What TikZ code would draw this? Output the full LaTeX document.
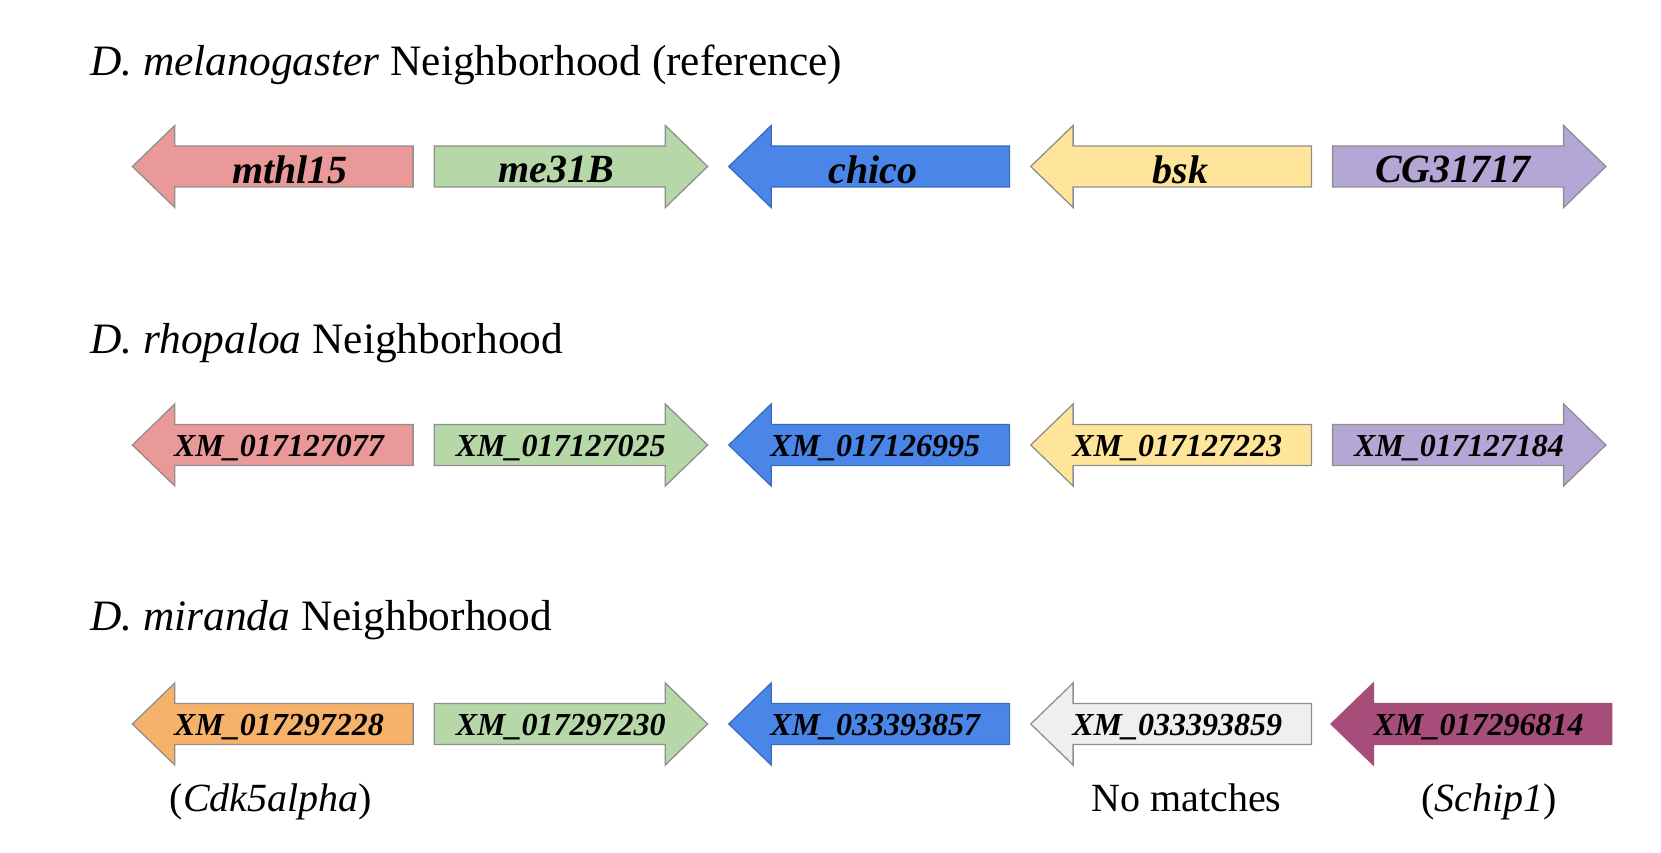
\documentclass[tikz,border=0pt]{standalone}
\usepackage{fontspec}
\setmainfont{Liberation Serif}
\definecolor{cpink}{HTML}{EA9999}
\definecolor{cgreen}{HTML}{B6D7A8}
\definecolor{cblue}{HTML}{4A86E8}
\definecolor{cyellow}{HTML}{FFE599}
\definecolor{cpurple}{HTML}{B4A7D6}
\definecolor{corange}{HTML}{F6B26B}
\definecolor{cgrey}{HTML}{EFEFEF}
\definecolor{cmagenta}{HTML}{A64D79}
\definecolor{cline}{HTML}{8F8F8F}
\newcommand{\arrR}[3]{% left x, centre y, style
  \draw[#3] (#1,#2-20.5) -- (#1+231,#2-20.5) -- (#1+231,#2-41) -- (#1+273.3,#2)
    -- (#1+231,#2+41) -- (#1+231,#2+20.5) -- (#1,#2+20.5) -- cycle;}
\newcommand{\arrL}[3]{% tip x, centre y, style
  \draw[#3] (#1,#2) -- (#1+42.4,#2-41) -- (#1+42.4,#2-20.5) -- (#1+280.7,#2-20.5)
    -- (#1+280.7,#2+20.5) -- (#1+42.4,#2+20.5) -- (#1+42.4,#2+41) -- cycle;}
\tikzset{
  gene/.style={line width=1.3pt, draw=cline},
  title/.style={anchor=base west, inner sep=0pt, font=\fontsize{43.4}{50}\selectfont},
  biglab/.style={inner sep=0pt, font=\fontsize{40}{46}\selectfont\bfseries\itshape},
  smalllab/.style={inner sep=0pt, font=\fontsize{32}{38}\selectfont\bfseries\itshape},
  note/.style={anchor=base, inner sep=0pt, font=\fontsize{40}{46}\selectfont},
}
\begin{document}
\begin{tikzpicture}[x=1pt,y=-1pt]
\useasboundingbox (0,0) rectangle (1661,853);
% titles
\node[title] (t1) at (90,76) {\textit{D. melanogaster} Neighborhood (reference)};
\node[title] (t2) at (90,353) {\textit{D. rhopaloa} Neighborhood};
\node[title] (t3) at (90,630) {\textit{D. miranda} Neighborhood};
% row 1
\def\ya{166.5}
\def\yat{169.5}
\arrL{132.4}{\ya}{gene, fill=cpink}
\arrR{434.3}{\ya}{gene, fill=cgreen}
\arrL{728.8}{\ya}{gene, fill=cblue, draw=cblue!80!black}
\arrL{1030.7}{\ya}{gene, fill=cyellow}
\arrR{1332.6}{\ya}{gene, fill=cpurple}
\node[biglab] (g11) at (290,\yat) {mthl15};
\node[biglab] (g12) at (556.6,\yat) {me31B};
\node[biglab] (g13) at (873.3,\yat) {chico};
\node[biglab] (g14) at (1180.5,\yat) {bsk};
\node[biglab] (g15) at (1453,\yat) {CG31717};
% row 2
\def\yb{445}
\def\ybt{448}
\arrL{132.4}{\yb}{gene, fill=cpink}
\arrR{434.3}{\yb}{gene, fill=cgreen}
\arrL{728.8}{\yb}{gene, fill=cblue, draw=cblue!80!black}
\arrL{1030.7}{\yb}{gene, fill=cyellow}
\arrR{1332.6}{\yb}{gene, fill=cpurple}
\node[smalllab] (g21) at (279,\ybt) {XM\_017127077};
\node[smalllab] (g22) at (560.7,\ybt) {XM\_017127025};
\node[smalllab] (g23) at (875.3,\ybt) {XM\_017126995};
\node[smalllab] (g24) at (1177.2,\ybt) {XM\_017127223};
\node[smalllab] (g25) at (1459,\ybt) {XM\_017127184};
% row 3
\def\yc{724}
\def\yct{727}
\arrL{132.4}{\yc}{gene, fill=corange}
\arrR{434.3}{\yc}{gene, fill=cgreen}
\arrL{728.8}{\yc}{gene, fill=cblue, draw=cblue!80!black}
\arrL{1030.7}{\yc}{gene, fill=cgrey}
\arrL{1331}{\yc}{gene, fill=cmagenta, draw=cmagenta}
\node[smalllab] (g31) at (279,\yct) {XM\_017297228};
\node[smalllab] (g32) at (560.7,\yct) {XM\_017297230};
\node[smalllab] (g33) at (875.3,\yct) {XM\_033393857};
\node[smalllab] (g34) at (1177.2,\yct) {XM\_033393859};
\node[smalllab] (g35) at (1478.6,\yct) {XM\_017296814};
% notes
\node[note] (n1) at (271,811) {(\textit{Cdk5alpha})};
\node[note] (n2) at (1186.5,811) {No matches};
\node[note] (n3) at (1489,811) {(\textit{Schip1})};
\end{tikzpicture}
\end{document}
